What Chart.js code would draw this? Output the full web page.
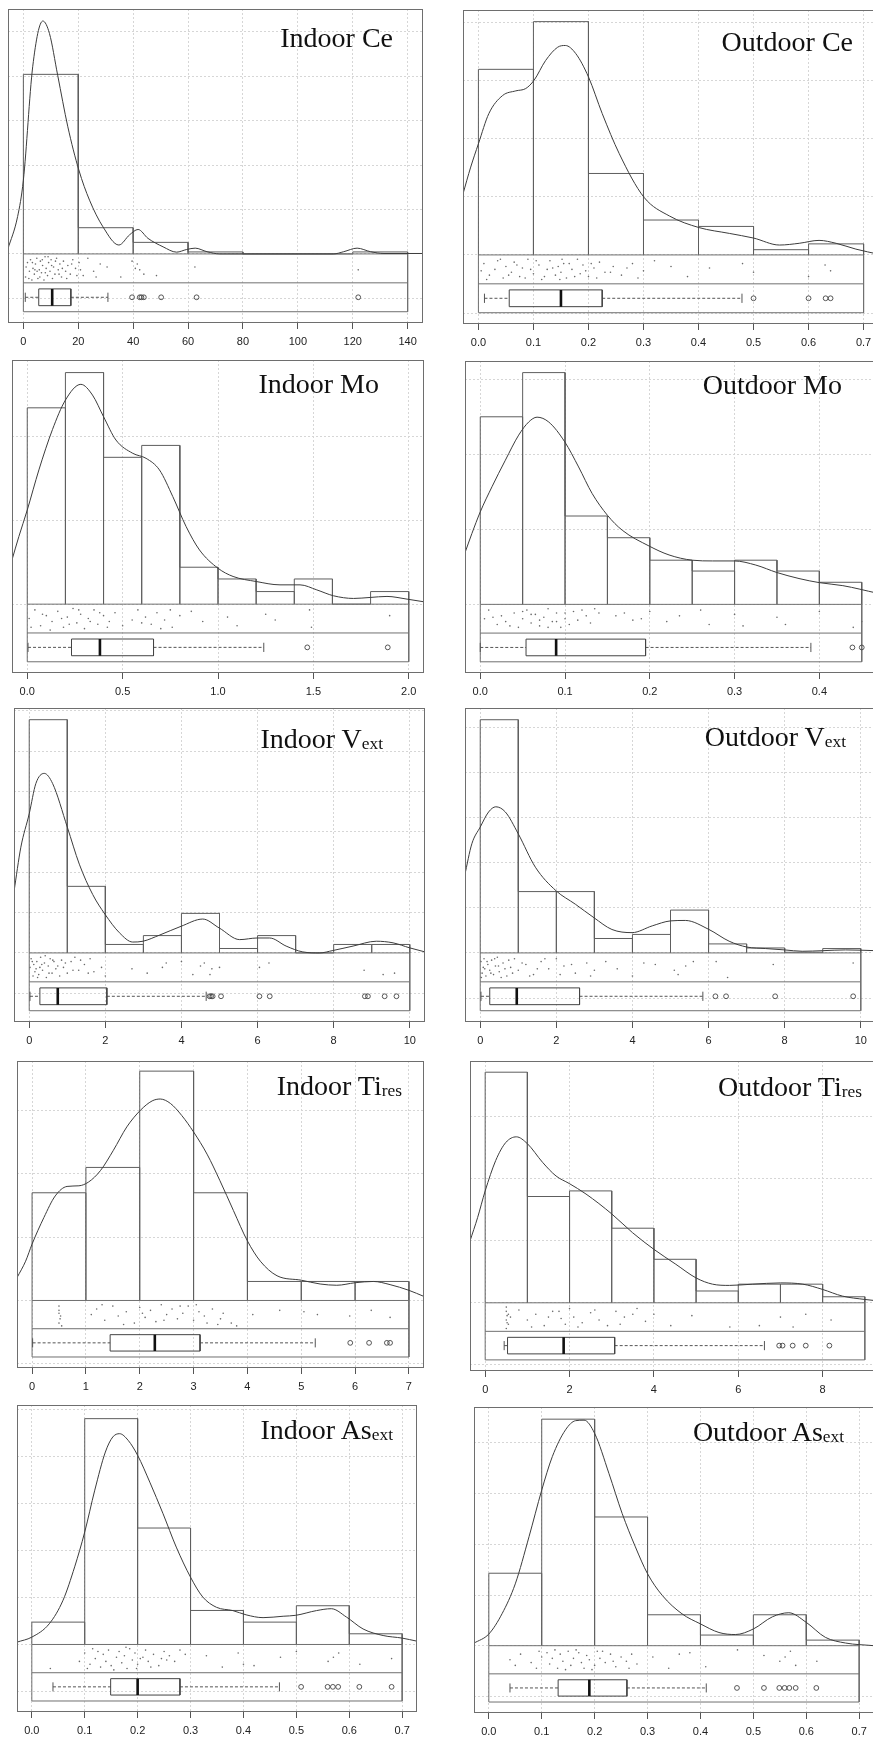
<!DOCTYPE html>
<html>
<head>
<meta charset="utf-8">
<script src="https://cdn.jsdelivr.net/npm/chart.js@4.4.0/dist/chart.umd.min.js"></script>
<style>
  html, body { margin: 0; padding: 0; background: #fff; }
  #page { position: relative; width: 873px; height: 1739px; overflow: hidden; }
  .panel { position: absolute; }
  .title { position: absolute; font-family: "Liberation Serif", "Times New Roman", serif; font-size: 28px; line-height: 28px; color: #111; white-space: nowrap; }
  .title sub { font-size: 0.62em; position: relative; top: 0.08em; vertical-align: baseline; }
</style>
</head>
<body>
<div id="page"></div>
<script>
// ---- Indoor Ce ----
const inCeTicks = [0, 20, 40, 60, 80, 100, 120, 140];
const inCeLabels = ['0', '20', '40', '60', '80', '100', '120', '140'];
const inCeEdges = [0, 20, 40, 60, 80, 100, 120, 140];
const inCeHist = [0.0404, 0.0059, 0.0026, 0.00045, 0, 0, 0.00045];
const inCeKdeX = [-5.7, -2.1, 0, 3.4, 7.1, 9.5, 12.5, 16.2, 20.2, 24.1, 29, 34.8, 38.7, 41.8, 45.4, 50.9, 55.8, 59.5, 62.6, 66.9, 71.6, 113, 116.7, 121.6, 126.5, 131.4, 145.6];
const inCeKdeY = [0.001, 0.0084, 0.0166, 0.0421, 0.0524, 0.0496, 0.0402, 0.0286, 0.0189, 0.0121, 0.0061, 0.002, 0.0043, 0.0055, 0.0035, 0.0016, 0.0004, 0.001, 0.0013, 0.0005, 0, 0, 0.0005, 0.0013, 0.0005, 0.0001, 0.0001];
const inCeRug = [[0.8,.8],[1.5,.3],[2.2,.6],[2.6,.2],[3.1,.9],[3.5,.5],[4.0,.7],[4.4,.35],[4.9,.15],[5.3,.85],[5.8,.55],[6.2,.25],[6.6,.65],[7.0,.4],[7.5,.9],[7.9,.1],[8.3,.5],[8.8,.75],[9.2,.3],[9.7,.6],[10.1,.2],[10.6,.85],[11.0,.45],[11.5,.7],[12.1,.15],[12.7,.55],[13.3,.35],[13.9,.8],[14.6,.25],[15.4,.6],[16.2,.4],[17.1,.7],[18.0,.2],[19.0,.5],[20.3,.3],[21.8,.75],[23.5,.15],[25.6,.6],[28.0,.35],[30.5,.45],[35.5,.8],[39.6,.25],[42.4,.55],[43.9,.7],[48.5,.75],[62.5,.45],[122.0,.55],
  [1.0,.45],[2.0,.85],[3.3,.3],[4.2,.55],[5.0,.6],[6.0,.8],[6.9,.2],[8.0,.65],[9.0,.1],[10.3,.4],[11.7,.25],[13.0,.7],[14.2,.5],[15.8,.85],[17.6,.35],[19.5,.75],[20.8,.55],[26.5,.8],[40.8,.5],[41.5,.35]];
const inCeBox = [0.7, 5.6, 10.5, 17.3, 30.8];
const inCeOut = [39.6, 42.4, 43.0, 43.9, 50.2, 63.1, 122.0];

// ---- Outdoor Ce ----
const outCeTicks = [0, 0.1, 0.2, 0.3, 0.4, 0.5, 0.6, 0.7];
const outCeLabels = ['0.0', '0.1', '0.2', '0.3', '0.4', '0.5', '0.6', '0.7'];
const outCeEdges = [0, 0.1, 0.2, 0.3, 0.4, 0.5, 0.6, 0.7];
const outCeHist = [3.19, 4.01, 1.40, 0.60, 0.49, 0.09, 0.19];
const outCeKdeX = [-0.028, -0.014, 0, 0.019, 0.044, 0.068, 0.086, 0.101, 0.122, 0.144, 0.158, 0.177, 0.2, 0.225, 0.256, 0.301, 0.347, 0.401, 0.456, 0.5, 0.547, 0.583, 0.619, 0.65, 0.686, 0.728];
const outCeKdeY = [1.05, 1.51, 1.91, 2.43, 2.74, 2.82, 2.86, 3.0, 3.34, 3.57, 3.60, 3.46, 3.06, 2.43, 1.74, 0.99, 0.67, 0.47, 0.37, 0.29, 0.17, 0.20, 0.25, 0.20, 0.10, 0.01];
const outCeRug = [[0.01,.3],[0.02,.7],[0.03,.5],[0.035,.2],[0.045,.8],[0.05,.4],[0.06,.6],[0.065,.25],[0.075,.75],[0.08,.45],[0.09,.15],[0.1,.65],[0.11,.35],[0.115,.85],[0.125,.5],[0.13,.2],[0.14,.7],[0.145,.4],[0.15,.6],[0.155,.3],[0.16,.8],[0.17,.5],[0.18,.15],[0.185,.65],[0.19,.35],[0.2,.75],[0.21,.45],[0.22,.25],[0.23,.6],[0.245,.4],[0.26,.7],[0.28,.3],[0.3,.55],[0.32,.2],[0.35,.4],[0.38,.75],[0.42,.45],[0.48,.3],[0.5,.6],[0.6,.75],[0.63,.35],[0.64,.55],
  [0.005,.55],[0.015,.85],[0.04,.15],[0.055,.7],[0.07,.35],[0.085,.8],[0.095,.5],[0.105,.2],[0.12,.75],[0.135,.45],[0.148,.85],[0.152,.15],[0.165,.3],[0.175,.75],[0.195,.55],[0.205,.3],[0.215,.8],[0.24,.6],[0.27,.45],[0.29,.8]];
const outCeBox = [0.011, 0.056, 0.150, 0.225, 0.479];
const outCeOut = [0.5, 0.6, 0.631, 0.64];

// ---- Indoor Mo ----
const inMoTicks = [0, 0.5, 1, 1.5, 2];
const inMoLabels = ['0.0', '0.5', '1.0', '1.5', '2.0'];
const inMoEdges = [0, 0.2, 0.4, 0.6, 0.8, 1.0, 1.2, 1.4, 1.6, 1.8, 2.0];
const inMoHist = [1.17, 1.38, 0.875, 0.946, 0.22, 0.15, 0.075, 0.15, 0, 0.075];
const inMoKdeX = [-0.08, -0.044, 0, 0.061, 0.132, 0.2, 0.281, 0.342, 0.4, 0.465, 0.553, 0.623, 0.693, 0.763, 0.833, 0.903, 1.0, 1.079, 1.2, 1.325, 1.43, 1.518, 1.605, 1.711, 1.798, 1.886, 1.991, 2.08];
const inMoKdeY = [0.264, 0.403, 0.561, 0.80, 1.04, 1.216, 1.31, 1.246, 1.117, 0.978, 0.899, 0.869, 0.80, 0.641, 0.462, 0.323, 0.214, 0.165, 0.135, 0.115, 0.115, 0.085, 0.05, 0.034, 0.04, 0.046, 0.03, 0.014];
const inMoRug = [[0.01,.5],[0.04,.2],[0.07,.75],[0.1,.4],[0.13,.6],[0.16,.25],[0.19,.8],[0.21,.45],[0.24,.15],[0.26,.65],[0.28,.35],[0.3,.85],[0.32,.5],[0.35,.2],[0.37,.7],[0.4,.4],[0.43,.6],[0.46,.3],[0.5,.75],[0.55,.55],[0.58,.2],[0.62,.45],[0.65,.7],[0.68,.3],[0.72,.55],[0.76,.8],[0.8,.4],[0.86,.25],[0.92,.6],[1.05,.45],[1.1,.75],[1.25,.35],[1.3,.55],[1.48,.2],[1.49,.8],[1.9,.4],
  [0.02,.8],[0.08,.35],[0.12,.9],[0.18,.5],[0.22,.7],[0.27,.2],[0.33,.6],[0.38,.3],[0.42,.8],[0.6,.65],[0.7,.85],[0.75,.2]];
const inMoBox = [0.004, 0.232, 0.381, 0.662, 1.24];
const inMoOut = [1.468, 1.89];

// ---- Outdoor Mo ----
const outMoTicks = [0, 0.1, 0.2, 0.3, 0.4];
const outMoLabels = ['0.0', '0.1', '0.2', '0.3', '0.4'];
const outMoEdges = [0, 0.05, 0.1, 0.15, 0.2, 0.25, 0.3, 0.35, 0.4, 0.45];
const outMoHist = [5.01, 6.19, 2.36, 1.78, 1.18, 0.89, 1.18, 0.89, 0.59];
const outMoKdeX = [-0.018, -0.0099, 0, 0.0138, 0.0296, 0.0453, 0.0571, 0.067, 0.0808, 0.0997, 0.116, 0.132, 0.15, 0.1675, 0.199, 0.2227, 0.25, 0.274, 0.2996, 0.325, 0.35, 0.376, 0.4, 0.4277, 0.468];
const outMoKdeY = [1.38, 1.89, 2.47, 3.14, 3.85, 4.52, 4.87, 5.0, 4.87, 4.34, 3.67, 2.96, 2.38, 1.98, 1.56, 1.32, 1.18, 1.16, 1.16, 1.05, 0.85, 0.69, 0.58, 0.50, 0.30];
const outMoRug = [[0.005,.5],[0.01,.2],[0.02,.7],[0.025,.4],[0.03,.6],[0.04,.3],[0.045,.8],[0.05,.5],[0.055,.2],[0.06,.65],[0.065,.35],[0.07,.75],[0.075,.45],[0.08,.15],[0.085,.6],[0.09,.3],[0.095,.8],[0.1,.5],[0.11,.25],[0.12,.2],[0.125,.4],[0.135,.15],[0.14,.3],[0.16,.4],[0.17,.3],[0.18,.55],[0.2,.25],[0.22,.6],[0.235,.4],[0.26,.2],[0.27,.7],[0.3,.35],[0.31,.75],[0.35,.45],[0.36,.7],[0.4,.25],[0.44,.8],[0.45,.6],
  [0.015,.45],[0.035,.75],[0.05,.25],[0.06,.35],[0.07,.55],[0.08,.8],[0.09,.6],[0.1,.3],[0.105,.7],[0.115,.55],[0.13,.65],[0.19,.5]];
const outMoBox = [0.0, 0.054, 0.0895, 0.195, 0.39];
const outMoOut = [0.439, 0.45];

// ---- Indoor Vext ----
const inVTicks = [0, 2, 4, 6, 8, 10];
const inVLabels = ['0', '2', '4', '6', '8', '10'];
const inVEdges = [0, 1, 2, 3, 4, 5, 6, 7, 8, 9, 10];
const inVHist = [0.578, 0.165, 0.021, 0.043, 0.098, 0.011, 0.043, 0, 0.021, 0.021];
const inVKdeX = [-0.4, -0.22, 0, 0.175, 0.395, 0.614, 1.0, 1.316, 1.667, 1.99, 2.37, 2.72, 2.99, 3.42, 3.99, 4.56, 4.99, 5.53, 5.99, 6.32, 6.75, 7.19, 7.63, 7.98, 8.51, 9.12, 9.56, 10.0, 10.4];
const inVKdeY = [0.152, 0.262, 0.345, 0.42, 0.445, 0.42, 0.312, 0.22, 0.145, 0.096, 0.05, 0.027, 0.029, 0.044, 0.066, 0.084, 0.062, 0.033, 0.037, 0.037, 0.017, 0.0025, 0.0, 0.006, 0.017, 0.029, 0.025, 0.0125, 0.0025];
const inVRug = [[0.02,.5],[0.05,.2],[0.1,.8],[0.12,.4],[0.15,.65],[0.2,.3],[0.25,.75],[0.28,.5],[0.3,.15],[0.35,.6],[0.4,.35],[0.45,.85],[0.5,.45],[0.55,.2],[0.6,.7],[0.65,.3],[0.7,.55],[0.8,.8],[0.85,.25],[0.9,.5],[1.0,.7],[1.1,.3],[1.2,.15],[1.3,.6],[1.45,.4],[1.6,.2],[1.7,.65],[1.9,.5],[2.0,.8],[3.1,.7],[3.5,.5],[3.6,.35],[4.0,.3],[4.5,.45],[4.6,.35],[4.75,.75],[4.8,.55],[5.0,.5],[6.05,.5],[6.3,.35],[8.8,.6],[9.3,.75],[9.6,.7],
  [0.08,.3],[0.18,.55],[0.22,.85],[0.33,.4],[0.42,.1],[0.52,.7],[0.62,.25],[0.75,.45],[0.95,.35],[1.15,.6],[1.35,.25],[1.55,.7],[2.7,.55],[4.3,.75]];
const inVBox = [0.02, 0.28, 0.75, 2.04, 4.65];
const inVOut = [4.74, 4.78, 4.82, 5.04, 6.05, 6.32, 8.82, 8.90, 9.34, 9.65];

// ---- Outdoor Vext ----
const outVTicks = [0, 2, 4, 6, 8, 10];
const outVLabels = ['0', '2', '4', '6', '8', '10'];
const outVEdges = [0, 1, 2, 3, 4, 5, 6, 7, 8, 9, 10];
const outVHist = [0.517, 0.136, 0.136, 0.032, 0.041, 0.095, 0.020, 0.011, 0.0015, 0.0097];
const outVKdeX = [-0.41, -0.22, 0, 0.22, 0.41, 0.66, 1.0, 1.45, 1.99, 2.5, 2.99, 3.46, 3.99, 4.52, 5.0, 5.39, 6.01, 6.54, 7.01, 7.5, 8.0, 8.46, 9.0, 9.6, 10.4];
const outVKdeY = [0.171, 0.242, 0.279, 0.3125, 0.324, 0.3125, 0.264, 0.19, 0.138, 0.108, 0.078, 0.052, 0.045, 0.06, 0.071, 0.072, 0.052, 0.026, 0.013, 0.0097, 0.0067, 0.0037, 0.005, 0.0067, 0.005];
const outVRug = [[0.02,.3],[0.05,.7],[0.08,.5],[0.1,.2],[0.15,.8],[0.2,.4],[0.25,.6],[0.3,.25],[0.35,.75],[0.4,.45],[0.45,.15],[0.5,.65],[0.6,.35],[0.7,.8],[0.8,.5],[0.9,.2],[1.0,.6],[1.2,.4],[1.4,.75],[1.6,.3],[1.8,.55],[2.0,.2],[2.2,.45],[2.5,.7],[2.8,.35],[3.0,.6],[3.3,.3],[4.0,.8],[4.3,.35],[4.6,.4],[5.1,.6],[5.2,.75],[5.4,.45],[5.6,.3],[6.2,.3],[6.5,.85],[7.7,.4],[9.8,.35],
  [0.03,.85],[0.12,.55],[0.18,.3],[0.28,.7],[0.38,.2],[0.48,.45],[0.55,.85],[0.65,.55],[0.75,.25],[0.85,.7],[1.1,.35],[1.3,.8],[1.5,.55],[1.7,.2],[2.1,.75],[2.4,.4],[2.9,.8],[3.6,.55]];
const outVBox = [0.02, 0.25, 0.96, 2.61, 5.85];
const outVOut = [6.18, 6.46, 7.75, 9.80];

// ---- Indoor Tires ----
const inTiTicks = [0, 1, 2, 3, 4, 5, 6, 7];
const inTiLabels = ['0', '1', '2', '3', '4', '5', '6', '7'];
const inTiEdges = [0, 1, 2, 3, 4, 5, 6, 7];
const inTiHist = [0.170, 0.210, 0.362, 0.170, 0.030, 0.030, 0.030];
const inTiKdeX = [-0.28, -0.12, 0, 0.22, 0.43, 0.65, 0.87, 1.05, 1.27, 1.51, 1.76, 2.01, 2.23, 2.38, 2.57, 2.78, 3.0, 3.25, 3.49, 3.74, 4.0, 4.24, 4.55, 5.0, 5.35, 5.66, 6.0, 6.34, 6.65, 7.0, 7.28];
const inTiKdeY = [0.036, 0.062, 0.089, 0.131, 0.165, 0.180, 0.181, 0.187, 0.205, 0.237, 0.274, 0.30, 0.315, 0.318, 0.311, 0.292, 0.266, 0.231, 0.189, 0.142, 0.094, 0.062, 0.039, 0.032, 0.026, 0.024, 0.028, 0.030, 0.025, 0.016, 0.0063];
const inTiRug = [[0.5,.2],[0.5,.45],[0.52,.65],[0.5,.8],[0.55,.9],[1.1,.5],[1.2,.3],[1.35,.7],[1.5,.2],[1.6,.55],[1.75,.4],[1.9,.8],[2.0,.25],[2.1,.6],[2.2,.35],[2.3,.75],[2.4,.15],[2.5,.5],[2.6,.3],[2.7,.65],[2.8,.45],[2.9,.2],[3.0,.7],[3.1,.4],[3.2,.55],[3.35,.3],[3.45,.85],[3.55,.45],[3.7,.8],[3.8,.9],[4.1,.5],[4.6,.35],[5.05,.4],[5.3,.5],[5.9,.55],[6.3,.35],[6.65,.6],
  [0.5,.35],[0.53,.55],[1.3,.15],[1.7,.85],[2.05,.45],[2.45,.7],[2.75,.2],[3.05,.15],[3.25,.8],[3.5,.65]];
const inTiBox = [0.01, 1.45, 2.28, 3.12, 5.26];
const inTiOut = [5.91, 6.26, 6.59, 6.65];

// ---- Outdoor Tires ----
const outTiTicks = [0, 2, 4, 6, 8];
const outTiLabels = ['0', '2', '4', '6', '8'];
const outTiEdges = [0, 1, 2, 3, 4, 5, 6, 7, 8, 9];
const outTiHist = [0.371, 0.171, 0.180, 0.120, 0.070, 0.019, 0.030, 0.030, 0.0097];
const outTiKdeX = [-0.36, -0.18, 0, 0.25, 0.49, 0.74, 1.0, 1.36, 1.68, 1.99, 2.39, 3.0, 3.49, 4.0, 4.52, 5.0, 5.39, 5.79, 6.34, 7.0, 7.53, 8.0, 8.47, 9.0, 9.36];
const outTiKdeY = [0.0995, 0.137, 0.180, 0.229, 0.258, 0.267, 0.256, 0.226, 0.204, 0.192, 0.175, 0.143, 0.113, 0.086, 0.062, 0.040, 0.030, 0.028, 0.030, 0.032, 0.030, 0.0215, 0.0108, 0.0054, 0.0027];
const outTiRug = [[0.5,.15],[0.5,.3],[0.52,.45],[0.5,.6],[0.55,.75],[0.5,.9],[0.6,.5],[0.8,.25],[1.0,.6],[1.2,.4],[1.4,.8],[1.6,.3],[1.8,.55],[1.9,.75],[2.0,.2],[2.1,.5],[2.3,.7],[2.5,.35],[2.7,.6],[2.9,.8],[3.1,.3],[3.3,.5],[3.6,.2],[3.8,.65],[4.0,.4],[4.4,.8],[4.9,.45],[5.8,.85],[6.5,.8],[7.0,.5],[7.3,.85],[7.6,.4],[8.2,.6],
  [0.55,.4],[0.52,.7],[1.1,.85],[1.5,.5],[1.75,.3],[2.2,.85],[2.6,.25],[3.2,.75],[3.5,.4]];
const outTiBox = [0.45, 0.53, 1.86, 3.07, 6.62];
const outTiOut = [6.97, 7.05, 7.29, 7.60, 8.16];

// ---- Indoor Asext ----
const inAsTicks = [0, 0.1, 0.2, 0.3, 0.4, 0.5, 0.6, 0.7];
const inAsLabels = ['0.0', '0.1', '0.2', '0.3', '0.4', '0.5', '0.6', '0.7'];
const inAsEdges = [0, 0.1, 0.2, 0.3, 0.4, 0.5, 0.6, 0.7];
const inAsHist = [0.475, 4.80, 2.475, 0.723, 0.475, 0.823, 0.227];
const inAsKdeX = [-0.028, 0, 0.033, 0.059, 0.081, 0.1, 0.119, 0.139, 0.153, 0.166, 0.182, 0.2, 0.223, 0.248, 0.273, 0.3, 0.323, 0.349, 0.38, 0.405, 0.437, 0.475, 0.499, 0.538, 0.566, 0.595, 0.626, 0.664, 0.7, 0.728];
const inAsKdeY = [0.05, 0.156, 0.44, 0.94, 1.65, 2.39, 3.28, 4.09, 4.41, 4.48, 4.34, 4.02, 3.45, 2.78, 2.07, 1.43, 1.01, 0.79, 0.72, 0.63, 0.57, 0.60, 0.62, 0.72, 0.76, 0.58, 0.33, 0.19, 0.135, 0.07];
const inAsRug = [[0.035,.85],[0.09,.6],[0.1,.3],[0.11,.7],[0.115,.15],[0.12,.5],[0.13,.8],[0.135,.35],[0.14,.6],[0.145,.2],[0.15,.75],[0.16,.45],[0.165,.25],[0.17,.65],[0.175,.4],[0.18,.85],[0.185,.15],[0.19,.55],[0.195,.3],[0.2,.7],[0.21,.45],[0.215,.2],[0.22,.6],[0.23,.35],[0.24,.75],[0.25,.25],[0.255,.55],[0.26,.4],[0.27,.6],[0.28,.2],[0.29,.35],[0.33,.4],[0.36,.8],[0.39,.3],[0.4,.7],[0.42,.75],[0.47,.45],[0.5,.25],[0.56,.6],[0.57,.45],[0.58,.3],[0.62,.7],[0.68,.5],
  [0.105,.85],[0.125,.25],[0.155,.9],[0.178,.1],[0.198,.85],[0.205,.5],[0.225,.8],[0.245,.5]];
const inAsBox = [0.04, 0.149, 0.2, 0.28, 0.468];
const inAsOut = [0.509, 0.559, 0.569, 0.579, 0.619, 0.68];

// ---- Outdoor Asext ----
const outAsTicks = [0, 0.1, 0.2, 0.3, 0.4, 0.5, 0.6, 0.7];
const outAsLabels = ['0.0', '0.1', '0.2', '0.3', '0.4', '0.5', '0.6', '0.7'];
const outAsEdges = [0, 0.1, 0.2, 0.3, 0.4, 0.5, 0.6, 0.7];
const outAsHist = [1.43, 4.47, 2.54, 0.61, 0.21, 0.61, 0.11];
const outAsKdeX = [-0.028, 0, 0.025, 0.05, 0.076, 0.1, 0.12, 0.145, 0.164, 0.18, 0.2, 0.227, 0.252, 0.277, 0.3, 0.328, 0.365, 0.4, 0.435, 0.466, 0.5, 0.536, 0.567, 0.6, 0.636, 0.674, 0.728];
const outAsKdeY = [0.05, 0.23, 0.63, 1.22, 2.15, 3.07, 3.73, 4.26, 4.44, 4.45, 4.19, 3.40, 2.61, 1.95, 1.42, 0.99, 0.63, 0.43, 0.26, 0.22, 0.33, 0.57, 0.65, 0.46, 0.165, 0.053, 0.0];
const outAsRug = [[0.04,.5],[0.05,.7],[0.06,.3],[0.08,.6],[0.09,.8],[0.1,.4],[0.11,.25],[0.115,.65],[0.12,.45],[0.13,.8],[0.135,.3],[0.14,.55],[0.15,.2],[0.155,.7],[0.16,.45],[0.17,.25],[0.175,.6],[0.18,.8],[0.185,.35],[0.19,.5],[0.2,.7],[0.205,.2],[0.21,.45],[0.22,.6],[0.23,.3],[0.24,.75],[0.25,.4],[0.26,.55],[0.27,.3],[0.28,.65],[0.31,.4],[0.34,.8],[0.36,.3],[0.38,.25],[0.41,.75],[0.47,.15],[0.52,.35],[0.55,.55],[0.56,.4],[0.57,.2],[0.58,.7],[0.62,.55],
  [0.095,.2],[0.125,.15],[0.145,.85],[0.165,.15],[0.195,.85],[0.215,.2],[0.235,.55],[0.265,.8]];
const outAsBox = [0.04, 0.131, 0.19, 0.261, 0.411];
const outAsOut = [0.469, 0.52, 0.549, 0.559, 0.568, 0.58, 0.619];

// panel list: data refs + y top (density) + grid step; frame = [left, top, right, bottom] px; title = [right x, baseline]
const panels = [
  { title: 'Indoor Ce', ticks: inCeTicks, labels: inCeLabels, edges: inCeEdges, hist: inCeHist, kx: inCeKdeX, ky: inCeKdeY, rug: inCeRug, box: inCeBox, out: inCeOut,
    xlim: [-5.6, 145.6], ymax: 0.0551, step: 0.01, frame: [8, 9, 423, 323], tpos: [393, 47] },
  { title: 'Outdoor Ce', ticks: outCeTicks, labels: outCeLabels, edges: outCeEdges, hist: outCeHist, kx: outCeKdeX, ky: outCeKdeY, rug: outCeRug, box: outCeBox, out: outCeOut,
    xlim: [-0.028, 0.728], ymax: 4.21, step: 1, frame: [463, 10, 879, 324], tpos: [853, 51] },
  { title: 'Indoor Mo', ticks: inMoTicks, labels: inMoLabels, edges: inMoEdges, hist: inMoHist, kx: inMoKdeX, ky: inMoKdeY, rug: inMoRug, box: inMoBox, out: inMoOut,
    xlim: [-0.08, 2.08], ymax: 1.455, step: 0.5, frame: [12, 360, 424, 673], tpos: [379, 393] },
  { title: 'Outdoor Mo', ticks: outMoTicks, labels: outMoLabels, edges: outMoEdges, hist: outMoHist, kx: outMoKdeX, ky: outMoKdeY, rug: outMoRug, box: outMoBox, out: outMoOut,
    xlim: [-0.018, 0.468], ymax: 6.5, step: 2, frame: [465, 361, 877, 673], tpos: [842, 394] },
  { title: 'Indoor V<sub>ext</sub>', ticks: inVTicks, labels: inVLabels, edges: inVEdges, hist: inVHist, kx: inVKdeX, ky: inVKdeY, rug: inVRug, box: inVBox, out: inVOut,
    xlim: [-0.4, 10.4], ymax: 0.607, step: 0.1, frame: [14, 708, 425, 1022], tpos: [383, 748] },
  { title: 'Outdoor V<sub>ext</sub>', ticks: outVTicks, labels: outVLabels, edges: outVEdges, hist: outVHist, kx: outVKdeX, ky: outVKdeY, rug: outVRug, box: outVBox, out: outVOut,
    xlim: [-0.4, 10.4], ymax: 0.543, step: 0.1, frame: [465, 708, 876, 1022], tpos: [846, 746] },
  { title: 'Indoor Ti<sub>res</sub>', ticks: inTiTicks, labels: inTiLabels, edges: inTiEdges, hist: inTiHist, kx: inTiKdeX, ky: inTiKdeY, rug: inTiRug, box: inTiBox, out: inTiOut,
    xlim: [-0.28, 7.28], ymax: 0.378, step: 0.1, frame: [17, 1061, 424, 1368], tpos: [402, 1095] },
  { title: 'Outdoor Ti<sub>res</sub>', ticks: outTiTicks, labels: outTiLabels, edges: outTiEdges, hist: outTiHist, kx: outTiKdeX, ky: outTiKdeY, rug: outTiRug, box: outTiBox, out: outTiOut,
    xlim: [-0.36, 9.36], ymax: 0.389, step: 0.1, frame: [470, 1061, 880, 1371], tpos: [862, 1096] },
  { title: 'Indoor As<sub>ext</sub>', ticks: inAsTicks, labels: inAsLabels, edges: inAsEdges, hist: inAsHist, kx: inAsKdeX, ky: inAsKdeY, rug: inAsRug, box: inAsBox, out: inAsOut,
    xlim: [-0.028, 0.728], ymax: 5.09, step: 1, frame: [17, 1405, 417, 1712], tpos: [393, 1439] },
  { title: 'Outdoor As<sub>ext</sub>', ticks: outAsTicks, labels: outAsLabels, edges: outAsEdges, hist: outAsHist, kx: outAsKdeX, ky: outAsKdeY, rug: outAsRug, box: outAsBox, out: outAsOut,
    xlim: [-0.028, 0.728], ymax: 4.71, step: 1, frame: [474, 1407, 874, 1713], tpos: [844, 1441] }
];

const PAD = 2, AXIS_H = 34;
const page = document.getElementById('page');

// frame round the plot region
const framePlugin = {
  id: 'frame',
  afterDraw(chart) {
    const a = chart.chartArea, c = chart.ctx;
    c.save();
    c.strokeStyle = '#6e6e6e';
    c.lineWidth = 1;
    c.strokeRect(Math.round(a.left) + 0.5, Math.round(a.top) + 0.5, Math.round(a.right - a.left) - 1, Math.round(a.bottom - a.top) - 1);
    c.restore();
  }
};

function lineSet(data, opts) {
  return Object.assign({ data, showLine: true, pointRadius: 0, borderColor: '#5a5a5a', borderWidth: 1, tension: 0, spanGaps: false, fill: false }, opts || {});
}

function build(p) {
  const [fl, ft, fr, fb] = p.frame;
  const w = fr - fl + PAD * 2, h = fb - ft + PAD + AXIS_H;
  const div = document.createElement('div');
  div.className = 'panel';
  div.style.left = (fl - PAD) + 'px';
  div.style.top = (ft - PAD) + 'px';
  const cv = document.createElement('canvas');
  cv.width = w; cv.height = h;
  cv.style.width = w + 'px'; cv.style.height = h + 'px';
  div.appendChild(cv);
  page.appendChild(div);

  const t = document.createElement('div');
  t.className = 'title';
  t.innerHTML = p.title;
  t.style.right = (873 - p.tpos[0]) + 'px';
  t.style.top = (p.tpos[1] - 23.5) + 'px';
  page.appendChild(t);

  const ymax = p.ymax, ymin = -0.282 * ymax, b = 0.118 * ymax;
  const x0 = p.edges[0], x1 = p.edges[p.edges.length - 1];
  const c = -1.5 * b, bh = 0.29 * b, cap = 0.16 * b;
  const [lo, q1, med, q3, hi] = p.box;

  const hist = [];
  p.hist.forEach((d, i) => {
    hist.push({ x: p.edges[i], y: 0 }, { x: p.edges[i], y: d }, { x: p.edges[i + 1], y: d }, { x: p.edges[i + 1], y: 0 });
  });
  const kde = p.kx.map((x, i) => ({ x, y: p.ky[i] }));
  const rug = p.rug.map(r => ({ x: r[0], y: -b * r[1] }));
  const bands = [{ x: x0, y: 0 }, { x: x1, y: 0 }, { x: x1, y: -2 * b }, { x: x0, y: -2 * b }, { x: x0, y: 0 },
                 { x: x0, y: null }, { x: x0, y: -b }, { x: x1, y: -b }];
  const boxRect = [{ x: q1, y: c + bh }, { x: q3, y: c + bh }, { x: q3, y: c - bh }, { x: q1, y: c - bh }, { x: q1, y: c + bh }];
  const whisk = [{ x: lo, y: c }, { x: q1, y: c }, { x: q1, y: null }, { x: q3, y: c }, { x: hi, y: c }];
  const caps = [{ x: lo, y: c - cap }, { x: lo, y: c + cap }, { x: lo, y: null }, { x: hi, y: c - cap }, { x: hi, y: c + cap }];
  const outl = p.out.map(x => ({ x, y: c }));

  new Chart(cv, {
    type: 'scatter',
    data: {
      datasets: [
        lineSet(kde, { borderColor: '#3c3c3c', cubicInterpolationMode: 'monotone' }),
        lineSet([{ x: med, y: c + bh }, { x: med, y: c - bh }], { borderColor: '#111', borderWidth: 2.6 }),
        lineSet(boxRect, { borderColor: '#444' }),
        lineSet(whisk, { borderColor: '#555', borderDash: [3, 2] }),
        lineSet(caps, { borderColor: '#555' }),
        { data: outl, pointRadius: 2.4, pointBackgroundColor: 'rgba(0,0,0,0)', pointBorderColor: '#444', pointBorderWidth: 0.9 },
        { data: rug, pointRadius: 0.8, pointBackgroundColor: '#6a6a6a', pointBorderWidth: 0 },
        lineSet(bands, { borderColor: '#707070' }),
        lineSet(hist, { borderColor: '#5e5e5e' })
      ]
    },
    options: {
      responsive: false,
      animation: false,
      events: [],
      layout: { padding: { left: PAD, top: PAD, right: PAD, bottom: 0 }, autoPadding: false },
      plugins: { legend: { display: false }, tooltip: { enabled: false } },
      scales: {
        x: {
          type: 'linear', min: p.xlim[0], max: p.xlim[1],
          afterBuildTicks: s => { s.ticks = p.ticks.map(v => ({ value: v })); },
          afterFit: s => { s.height = AXIS_H; },
          ticks: { autoSkip: false, maxRotation: 0, padding: 6, color: '#222',
                   font: { family: 'Liberation Sans, Arial, sans-serif', size: 11 },
                   callback: (v, i) => p.labels[i] },
          grid: { color: '#d6d6d6', lineWidth: 1, drawTicks: true, tickLength: 6, tickColor: '#555', tickWidth: 1 },
          border: { display: false, dash: [2, 2] }
        },
        y: {
          type: 'linear', min: ymin, max: ymax,
          afterBuildTicks: s => {
            const tk = [];
            for (let k = Math.ceil(ymin / p.step - 1e-6); k * p.step <= ymax + 1e-9; k++) tk.push({ value: k * p.step });
            s.ticks = tk;
          },
          afterFit: s => { s.width = 0; },
          ticks: { display: false },
          grid: { color: '#d6d6d6', lineWidth: 1, drawTicks: false },
          border: { display: false, dash: [2, 2] }
        }
      }
    },
    plugins: [framePlugin]
  });
}

panels.forEach(build);
</script>
</body>
</html>
